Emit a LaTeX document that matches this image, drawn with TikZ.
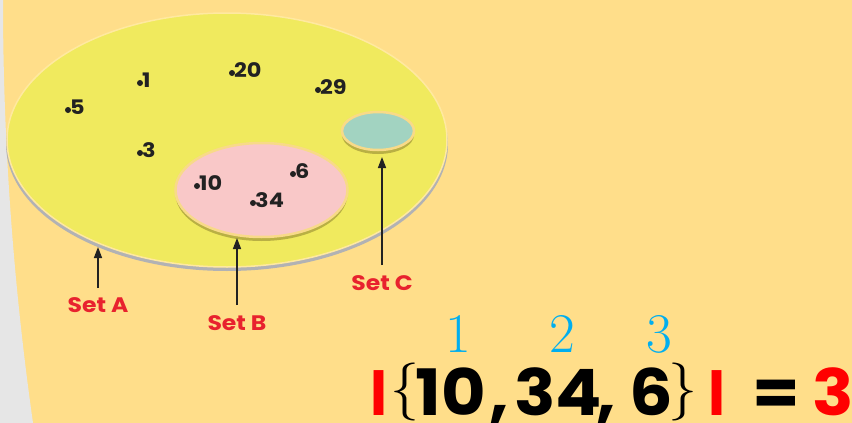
\documentclass[tikz,border=0pt]{standalone}
\usepackage{fontspec}
\newfontfamily\pop{Poppins}[FakeStretch=1.12]
\newfontfamily\popb{Poppins}[FakeStretch=1.07]
\newfontfamily\popn{Poppins}[FakeStretch=0.9]
\usetikzlibrary{arrows.meta}
\definecolor{bgc}{HTML}{FFDE8A}
\definecolor{grayc}{HTML}{E6E6E6}
\definecolor{yel}{HTML}{F0EA5E}
\definecolor{yelb}{HTML}{FFE9A0}
\definecolor{shad}{HTML}{B2B2B4}
\definecolor{pinkc}{HTML}{F9C8C8}
\definecolor{pinkb}{HTML}{F8DA88}
\definecolor{olive}{HTML}{B9B044}
\definecolor{tealc}{HTML}{A2D3C1}
\definecolor{redc}{HTML}{E8222E}
\definecolor{redf}{HTML}{FF0000}
\definecolor{bluec}{HTML}{00AEEF}
\definecolor{ink}{HTML}{222222}
\tikzset{
  elem/.style={font=\pop\bfseries\fontsize{20}{20}\selectfont, text=ink, inner sep=0pt, anchor=west},
  dotc/.style={fill=ink, draw=none},
  setlbl/.style={font=\pop\bfseries\fontsize{21}{21}\selectfont, text=redc, inner sep=0pt},
  arr/.style={draw=ink, line width=1.5pt, -{Triangle[length=11pt,width=8pt]}},
  big/.style={font=\popb\bfseries\fontsize{64}{64}\selectfont, inner sep=0pt, anchor=base, text=black, text depth=0pt},
  bar/.style={font=\popn\bfseries\fontsize{64}{64}\selectfont, inner sep=0pt, anchor=base, text=redf, text depth=0pt},
  brace/.style={font=\fontsize{58}{58}\selectfont, inner sep=0pt, anchor=base, text=black, text depth=0pt},
  cnt/.style={font=\fontsize{56}{56}\selectfont, text=bluec, inner sep=0pt, anchor=base},
}
\begin{document}
\begin{tikzpicture}[x=1pt,y=-1pt]
\useasboundingbox (0,0) rectangle (852,423);
\fill[bgc] (0,0) rectangle (852,423);
\fill[grayc] (0,0) -- (3,0) .. controls (3,141) and (13,282) .. (33,423) -- (0,423) -- cycle;
% Set A
\fill[shad] (227,144) ellipse [x radius=221, y radius=127];
\filldraw[fill=yel, draw=yelb, line width=1.5pt] (227,140) ellipse [x radius=220, y radius=127];
% Set B
\fill[olive] (261.5,194) ellipse [x radius=86, y radius=47];
\filldraw[fill=pinkc, draw=pinkb, line width=2.5pt] (261.5,190) ellipse [x radius=86, y radius=47];
% Set C
\fill[olive] (378,135) ellipse [x radius=36, y radius=19];
\filldraw[fill=tealc, draw=pinkb, line width=2.5pt] (378,131) ellipse [x radius=36, y radius=19];
% elements
\foreach \n/\x/\y in {5/68/110, 1/140/83, 20/232/73, 29/318/90, 3/140/153, 10/197/186, 34/253/203, 6/293/174}{
  \fill[dotc] (\x,\y) circle (3);
  \node[elem] (e\n) at (\x+2,\y-3) {\n};
}
% labels
\node[setlbl] (setA) at (98,305) {Set A};
\node[setlbl] (setB) at (237,323) {Set B};
\node[setlbl] (setC) at (382,283) {Set C};
\coordinate (tA) at (98,288); \coordinate (hA) at (98,247);
\coordinate (tB) at (237,305); \coordinate (hB) at (237,238);
\coordinate (tC) at (382,265); \coordinate (hC) at (382,157);
\draw[arr] (tA) -- (hA);
\draw[arr] (tB) -- (hB);
\draw[arr] (tC) -- (hC);
% formula
\node[bar] (barL) at (379,415) {I};
\node[brace] (brL) at (405,406) {\{};
\node[big] (n10) at (451,415) {10};
\node[big] (cm1) at (499,415) {,};
\node[big] (n34) at (558,415) {34};
\node[big] (cm2) at (606,415) {,};
\node[big] (n6) at (651,415) {6};
\node[brace] (brR) at (683,406) {\}};
\node[bar] (barR) at (717,415) {I};
\node[big] (eq) at (776,415) {=};
\node[big, text=redf] (res) at (833,415) {3};
\node[cnt] (c1) at (458,352) {1};
\node[cnt] (c2) at (562,352) {2};
\node[cnt] (c3) at (659,352) {3};
\end{tikzpicture}
\end{document}
